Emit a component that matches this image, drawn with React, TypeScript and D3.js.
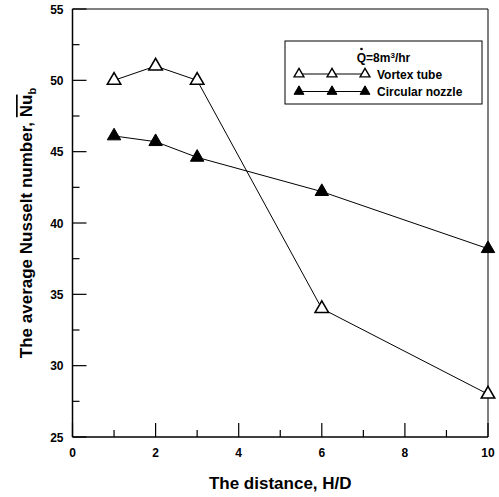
import React from 'react'
import * as d3 from 'd3'

// H/D positions and the two series
const distances = [1, 2, 3, 6, 10]
const vortexTube = [50, 51, 50, 34, 28]
const circularNozzle = [46.1, 45.7, 44.6, 42.2, 38.2]

const xMajorTicks = [0, 2, 4, 6, 8, 10]
const xMinorTicks = [1, 3, 5, 7, 9]
const yMajorTicks = [25, 30, 35, 40, 45, 50, 55]
const yMinorTicks = [27.5, 32.5, 37.5, 42.5, 47.5, 52.5]

const W = 499
const H = 497
const left = 72.5
const right = 488
const top = 9
const bottom = 437

const App = () => {
    const x = d3.scaleLinear().domain([0, 10]).range([left, right])
    const y = d3.scaleLinear().domain([25, 55]).range([bottom, top])

    const line = d3.line<number>()
        .x((d, i) => x(distances[i]))
        .y(d => y(d))

    const tri = d3.symbol(d3.symbolTriangle, 78)()
    const legTri = d3.symbol(d3.symbolTriangle, 42)()

    const tickFont = { fontFamily: 'Liberation Sans, Arial, sans-serif', fontWeight: 'bold', fontSize: 12 } as const
    const titleFont = { fontFamily: 'Liberation Sans, Arial, sans-serif', fontWeight: 'bold', fontSize: 17 } as const

    // legend layout
    const legX = [299, 332, 365]
    const row1 = 74
    const row2 = 91.5
    const box = { x: 285, y: 41, w: 197, h: 63 }

    return (
        <svg width={W} height={H} style={{ position: 'absolute', left: 0, top: 0, background: '#fff' }}>
            {/* frame */}
            <line x1={left} x2={right} y1={top} y2={top} stroke="#000" strokeWidth={1} />
            <line x1={right} x2={right} y1={top} y2={bottom} stroke="#000" strokeWidth={1} />
            <line x1={left} x2={left} y1={top} y2={bottom} stroke="#000" strokeWidth={1.5} />
            <line x1={left} x2={right} y1={bottom} y2={bottom} stroke="#000" strokeWidth={1.5} />

            {/* y ticks */}
            {yMajorTicks.map(t => (
                <g key={'ym' + t}>
                    <line x1={left} x2={left + 14} y1={y(t)} y2={y(t)} stroke="#000" strokeWidth={1.2} />
                    <text x={left - 9} y={y(t) + 4.5} textAnchor="end" style={tickFont}>{t}</text>
                </g>
            ))}
            {yMinorTicks.map(t => (
                <line key={'yn' + t} x1={left} x2={left + 7} y1={y(t)} y2={y(t)} stroke="#000" strokeWidth={1.2} />
            ))}

            {/* x ticks */}
            {xMajorTicks.map(t => (
                <g key={'xm' + t}>
                    <line x1={x(t)} x2={x(t)} y1={bottom} y2={bottom - 14} stroke="#000" strokeWidth={1.2} />
                    <text x={x(t)} y={bottom + 20} textAnchor="middle" style={tickFont}>{t}</text>
                </g>
            ))}
            {xMinorTicks.map(t => (
                <line key={'xn' + t} x1={x(t)} x2={x(t)} y1={bottom} y2={bottom - 7} stroke="#000" strokeWidth={1.2} />
            ))}

            {/* series */}
            <path d={line(vortexTube) || ''} fill="none" stroke="#000" strokeWidth={1} />
            <path d={line(circularNozzle) || ''} fill="none" stroke="#000" strokeWidth={1} />
            {vortexTube.map((v, i) => (
                <path key={'v' + i} d={tri || ''} transform={`translate(${x(distances[i])},${y(v)})`}
                    fill="#fff" stroke="#000" strokeWidth={1.6} />
            ))}
            {circularNozzle.map((v, i) => (
                <path key={'c' + i} d={tri || ''} transform={`translate(${x(distances[i])},${y(v)})`}
                    fill="#000" stroke="#000" strokeWidth={1} />
            ))}

            {/* legend */}
            <rect x={box.x} y={box.y} width={box.w} height={box.h} fill="#fff" stroke="#000" strokeWidth={1} />
            <text x={box.x + box.w / 2} y={61.5} textAnchor="middle" style={tickFont}>
                Q=8m<tspan dy={-4} fontSize={8}>3</tspan><tspan dy={4}>/hr</tspan>
            </text>
            <circle cx={box.x + box.w / 2 - 22} cy={49} r={1.3} fill="#000" />
            <line x1={legX[0]} x2={legX[2]} y1={row1} y2={row1} stroke="#000" strokeWidth={1} />
            {legX.map(lx => (
                <path key={'lv' + lx} d={legTri || ''} transform={`translate(${lx},${row1})`} fill="#fff" stroke="#000" strokeWidth={1.4} />
            ))}
            <text x={377} y={row1 + 4.5} style={tickFont}>Vortex tube</text>
            <line x1={legX[0]} x2={legX[2]} y1={row2} y2={row2} stroke="#000" strokeWidth={1} />
            {legX.map(lx => (
                <path key={'lc' + lx} d={legTri || ''} transform={`translate(${lx},${row2})`} fill="#000" stroke="#000" strokeWidth={1} />
            ))}
            <text x={377} y={row2 + 4.5} style={tickFont}>Circular nozzle</text>

            {/* axis titles */}
            <text x={(left + right) / 2} y={489} textAnchor="middle" style={titleFont}>The distance, H/D</text>
            <text transform={`translate(32,${(top + bottom) / 2}) rotate(-90)`} textAnchor="middle" style={titleFont}>
                The average Nusselt number, <tspan textDecoration="overline">Nu</tspan><tspan fontSize={11} dy={4}>b</tspan>
            </text>
        </svg>
    )
}

export default App
